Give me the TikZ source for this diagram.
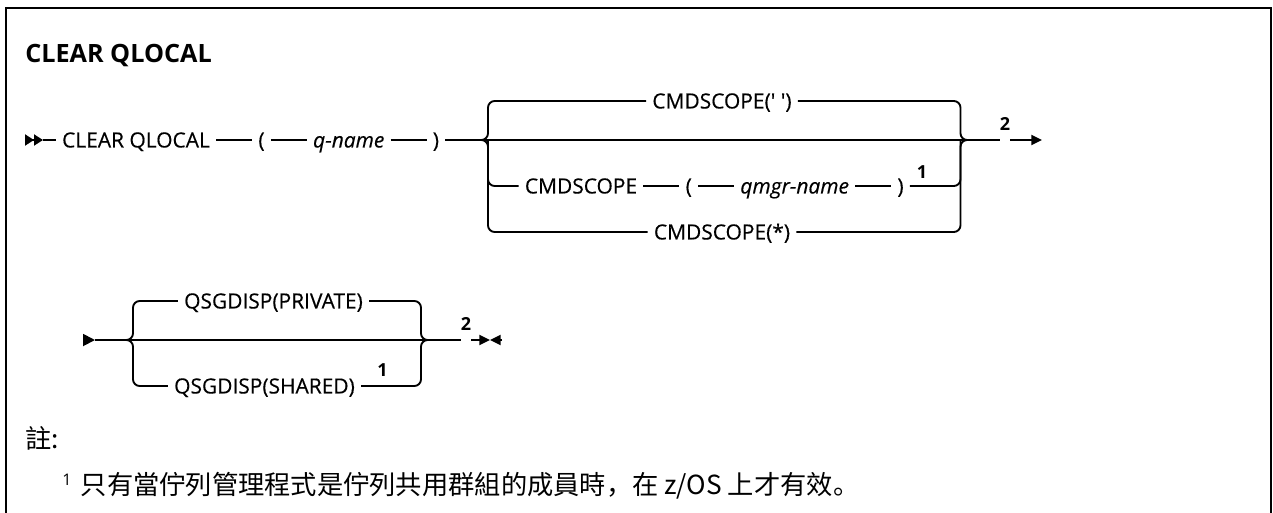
\documentclass[tikz,border=0pt]{standalone}
\usepackage{fontspec}
\setmainfont{Open Sans}
\newfontfamily\railfont{Open Sans}[FakeBold=0.4]
\newfontfamily\cjkfont{Noto Sans CJK TC}
\newfontfamily\cjkpunct{Noto Sans CJK SC}
\usetikzlibrary{positioning, arrows.meta}

\begin{document}
\begin{tikzpicture}[
    x=0.75pt, y=-0.75pt,
    % Node styles
    kw/.style={
        inner xsep=4.5pt, inner ysep=0pt,
        text height=11.2pt, text depth=0pt,
        font=\railfont\fontsize{15.7}{18}\selectfont
    },
    varname/.style={kw, font=\railfont\itshape\fontsize{15.7}{18}\selectfont},
    ref/.style={font=\bfseries\fontsize{13.5}{15}\selectfont, inner sep=0pt},
    heading/.style={font=\bfseries\fontsize{18.9}{21}\selectfont, inner sep=0pt},
    note/.style={font=\cjkfont\fontsize{19.7}{22}\selectfont, inner sep=0pt},
    gapnode/.style={inner sep=0pt, minimum width=7.5pt, minimum height=0pt},
    % Line styles
    rail/.style={draw, line width=1.4pt},
    brace/.style={rail, rounded corners=5pt},
    endtip/.style={-{Triangle[length=8pt, width=7.5pt]}},
    node distance=27pt,
]
\useasboundingbox (0,0) rectangle (1273,512);

% Frame, open at the bottom
\draw[line width=1.6pt] (6,516) -- (6,8) -- (1271,8) -- (1271,516);

% Title
\node[heading, anchor=base west] (title) at (25,62) {CLEAR QLOCAL};

% ===== FIRST RAIL: CLEAR QLOCAL ( q-name ) =====
\coordinate (s1a) at (25,140);
\coordinate (s1b) at (43,140);
\draw[rail, -{Triangle[length=6.75pt, width=8.25pt]Triangle[length=6.75pt, width=8.25pt]}] (s1a) -- (s1b);

\node[kw] (clr) at (136,140) {CLEAR QLOCAL};
\node[kw, right=of clr] (lp1) {(};
\node[varname, right=of lp1] (qn) {q-name};
\node[kw, right=of qn] (rp1) {)};

\draw[rail] (s1b) -- (clr.west);
\draw[rail] (clr.east) -- (lp1.west);
\draw[rail] (lp1.east) -- (qn.west);
\draw[rail] (qn.east) -- (rp1.west);

% Brace points
\coordinate (lb) at (488,140);
\coordinate (lb-tip) at (481,140);
\coordinate (rb) at (960.5,140);
\coordinate (rb-tip) at (968,140);

% CMDSCOPE choices
\node[kw] (cs-blank) at (722,101) {CMDSCOPE(\textquotesingle\ \textquotesingle)};
\node[kw] (cmd) at (581,186) {CMDSCOPE};
\node[kw, right=of cmd] (lp2) {(};
\node[varname, right=of lp2] (qm) {qmgr-name};
\node[kw, right=of qm] (rp2) {)};
\node[ref] (n1a) at (922,172) {1};
\node[kw] (cs-star) at (722,232) {CMDSCOPE(*)};

\draw[rail] (cmd.east) -- (lp2.west);
\draw[rail] (lp2.east) -- (qm.west);
\draw[rail] (qm.east) -- (rp2.west);

% Left brace
\draw[brace] (cs-blank.west) -| (lb) -- (lb-tip);
\draw[brace] (cs-star.west) -| (lb) -- (lb-tip);
\draw[brace] (lb) |- (cmd.west);

% Right brace
\draw[brace] (cs-blank.east) -| (rb) -- (rb-tip);
\draw[brace] (cs-star.east) -| (rb) -- (rb-tip);
\draw[brace] (rp2.east) -| (rb);

% Main line through, note 2, continuation arrow
\node[gapnode] (g1) at (1005,140) {};
\node[ref, above=7pt of g1] (n2a) {2};
\coordinate (a1) at (1042,140);
\draw[rail] (rp1.east) -- (g1.west);
\draw[rail, endtip] (g1.east) -- (a1);

% ===== SECOND RAIL: QSGDISP =====
\coordinate (s2a) at (83,340);
\coordinate (s2b) at (95,340);
\draw[rail, -{Triangle[length=9pt, width=9pt]}] (s2a) -- (s2b);

\coordinate (lb2) at (133,340);
\coordinate (lb2-tip) at (127,340);
\coordinate (rb2) at (421,340);
\coordinate (rb2-tip) at (429,340);

\node[kw] (priv) at (273.5,301) {QSGDISP(PRIVATE)};
\node[kw] (shrd) at (264.5,386) {QSGDISP(SHARED)};
\node[ref] (n1b) at (382.5,370) {1};

\draw[brace] (priv.west) -| (lb2) -- (lb2-tip);
\draw[brace] (shrd.west) -| (lb2) -- (lb2-tip);
\draw[brace] (priv.east) -| (rb2) -- (rb2-tip);
\draw[brace] (shrd.east) -| (rb2) -- (rb2-tip);

% Main line, note 2, end mark
\node[gapnode] (g2) at (466,340) {};
\node[ref, above=7pt of g2] (n2b) {2};
\coordinate (e2) at (490,340);
\coordinate (e3) at (502,340);
\draw[rail] (s2b) -- (g2.west);
\draw[rail, endtip] (g2.east) -- (e2);
\draw[rail, endtip] (e3) -- (e2);

% ===== NOTES =====
\node[note, anchor=base west] (notes) at (25,448) {註:};
\node[note, anchor=base west] (note1) at (62,494)
    {\raisebox{6.75pt}{\rmfamily\fontsize{12}{13}\selectfont 1}\hspace{7pt}只有當佇列管理程式是佇列共用群組的成員時{\cjkpunct ，}在 z/OS 上才有效{\cjkpunct 。}};

\end{tikzpicture}
\end{document}
